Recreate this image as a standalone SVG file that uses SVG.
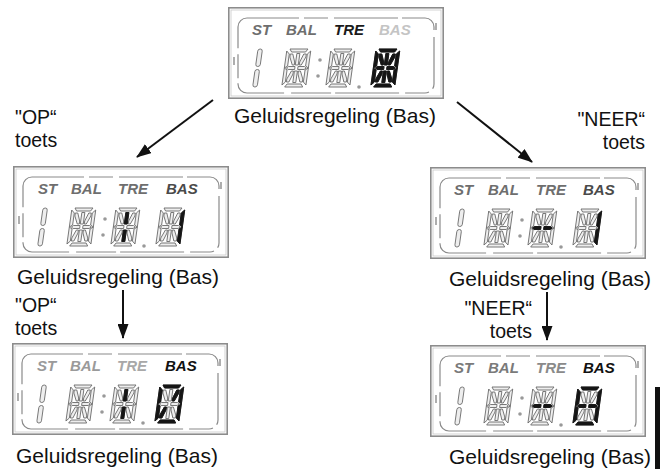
<svg xmlns="http://www.w3.org/2000/svg" xmlns:xlink="http://www.w3.org/1999/xlink" width="660" height="469" viewBox="0 0 660 469">
<style>
.cap{font-family:"Liberation Sans",Arial,sans-serif;font-size:21px;fill:#111}
.key{font-family:"Liberation Sans",Arial,sans-serif;font-size:19.5px;fill:#111}
.lbl{font-family:"Liberation Sans",Arial,sans-serif;font-size:15px;font-weight:bold;font-style:italic}
.seg{fill:#eeeeee;stroke:#6e6e6e;stroke-width:0.9}
.on{fill:#151515;stroke:#151515;stroke-width:0.9}
.arrow{stroke:#111;stroke-width:2;fill:none}
</style>
<defs>
<marker id="ah" markerUnits="userSpaceOnUse" markerWidth="15" markerHeight="11" refX="14" refY="5.5" orient="auto">
<path d="M0,0 L15,5.5 L0,11 z" fill="#111"/>
</marker>
<polygon id="sA" points="3,0 21,0 19,3 5,3"/>
<polygon id="sD" points="5,35 19,35 21,38 3,38"/>
<polygon id="sF" points="0,2 3,5 3,17 0,19"/>
<polygon id="sE" points="0,19 3,21 3,33 0,36"/>
<polygon id="sB" points="24,2 24,19 21,17 21,5"/>
<polygon id="sC" points="24,19 24,36 21,33 21,21"/>
<polygon id="sG1" points="2,19 4,17.5 10.5,17.5 10.5,20.5 4,20.5"/>
<polygon id="sG2" points="13.5,17.5 20,17.5 22,19 20,20.5 13.5,20.5"/>
<polygon id="sI" points="10.5,4.5 13.5,4.5 13.5,16 10.5,16"/>
<polygon id="sL" points="10.5,22 13.5,22 13.5,33.5 10.5,33.5"/>
<polygon id="sH" points="4,5 6.5,5 9.5,13 9.5,16 7.5,16 4,8"/>
<polygon id="sJ" points="20,5 17.5,5 14.5,13 14.5,16 16.5,16 20,8"/>
<polygon id="sK" points="4,33 6.5,33 9.5,25 9.5,22 7.5,22 4,30"/>
<polygon id="sM" points="20,33 17.5,33 14.5,25 14.5,22 16.5,22 20,30"/>
<g id="d14">
<use href="#sA"/><use href="#sD"/><use href="#sF"/><use href="#sE"/><use href="#sB"/><use href="#sC"/><use href="#sG1"/><use href="#sG2"/><use href="#sI"/><use href="#sL"/><use href="#sH"/><use href="#sJ"/><use href="#sK"/><use href="#sM"/>
</g>
<g id="lcd">
<rect x="0.8" y="0.8" width="214.4" height="90.4" fill="#fff" stroke="#8c8c8c" stroke-width="1.6"/>
<rect x="3" y="3" width="210" height="86" fill="none" stroke="#c8c8c8" stroke-width="0.8"/>
<rect x="10" y="11" width="196" height="75" rx="9" fill="none" stroke="#8a8a8a" stroke-width="1.2" stroke-dasharray="52 5 24 6 64 4 40 7"/>
<line x1="6" y1="50" x2="6" y2="58" stroke="#777" stroke-width="1.2"/>
<line x1="208" y1="16" x2="208" y2="23" stroke="#777" stroke-width="1.2"/>
<g transform="translate(30,42) skewX(-8)" class="seg">
<rect x="0" y="0" width="4.5" height="17.5" rx="2.2"/>
<rect x="0" y="20.5" width="4.5" height="17.5" rx="2.2"/>
</g>
<circle cx="92" cy="53" r="1.8" fill="#999"/>
<circle cx="90" cy="69" r="1.8" fill="#999"/>
<circle cx="131" cy="80" r="1.8" fill="#999"/>
<use href="#d14" class="seg" transform="translate(59,42) skewX(-8)"/>
<use href="#d14" class="seg" transform="translate(103,42) skewX(-8)"/>
<use href="#d14" class="seg" transform="translate(148,42) skewX(-8)"/>
</g>
</defs>

<g id="connectors">
<line class="arrow" x1="213" y1="100" x2="137" y2="157" marker-end="url(#ah)"/>
<line class="arrow" x1="457" y1="102" x2="532" y2="162" marker-end="url(#ah)"/>
<line class="arrow" x1="123" y1="290" x2="123" y2="338" marker-end="url(#ah)"/>
<line class="arrow" x1="547" y1="292" x2="547" y2="340" marker-end="url(#ah)"/>
</g>

<g id="display-top" transform="translate(228,7)">
<use href="#lcd"/>
<text class="lbl" x="24" y="28" fill="#6e6e6e">ST</text>
<text class="lbl" x="58" y="28" fill="#6e6e6e">BAL</text>
<text class="lbl" x="106" y="28" fill="#1a1a1a">TRE</text>
<text class="lbl" x="151" y="28" fill="#c4c4c4">BAS</text>
<g class="on" transform="translate(148,42) skewX(-8)"><use href="#d14"/></g>
</g>
<text id="cap-top" class="cap" x="335" y="123" text-anchor="middle">Geluidsregeling (Bas)</text>

<g id="key-op-1">
<text class="key" x="15" y="124">"OP“</text>
<text class="key" x="15" y="147">toets</text>
</g>
<g id="key-neer-1">
<text class="key" x="645" y="126" text-anchor="end">"NEER“</text>
<text class="key" x="645" y="149" text-anchor="end">toets</text>
</g>

<g id="display-mid-left" transform="translate(13,166)">
<use href="#lcd"/>
<text class="lbl" x="25" y="28" fill="#6e6e6e">ST</text>
<text class="lbl" x="58" y="28" fill="#6e6e6e">BAL</text>
<text class="lbl" x="105" y="28" fill="#6e6e6e">TRE</text>
<text class="lbl" x="153" y="28" fill="#4a4a4a">BAS</text>
<g class="on" transform="translate(103,42) skewX(-8)"><use href="#sI"/><use href="#sL"/></g>
<g class="on" transform="translate(148,42) skewX(-8)"><use href="#sB"/><use href="#sC"/></g>
</g>
<text id="cap-mid-left" class="cap" x="118" y="284" text-anchor="middle">Geluidsregeling (Bas)</text>

<g id="display-mid-right" transform="translate(430,167)">
<use href="#lcd"/>
<text class="lbl" x="24" y="28" fill="#6e6e6e">ST</text>
<text class="lbl" x="58" y="28" fill="#6e6e6e">BAL</text>
<text class="lbl" x="106" y="28" fill="#6e6e6e">TRE</text>
<text class="lbl" x="153" y="28" fill="#4a4a4a">BAS</text>
<g class="on" transform="translate(103,42) skewX(-8)"><use href="#sG1"/><use href="#sG2"/></g>
<g class="on" transform="translate(148,42) skewX(-8)"><use href="#sB"/><use href="#sC"/></g>
</g>
<text id="cap-mid-right" class="cap" x="550" y="286" text-anchor="middle">Geluidsregeling (Bas)</text>

<g id="key-op-2">
<text class="key" x="15" y="312">"OP“</text>
<text class="key" x="15" y="335">toets</text>
</g>
<g id="key-neer-2">
<text class="key" x="532" y="315" text-anchor="end">"NEER“</text>
<text class="key" x="532" y="338" text-anchor="end">toets</text>
</g>

<g id="display-bottom-left" transform="translate(12,343)">
<use href="#lcd"/>
<text class="lbl" x="25" y="28" fill="#9a9a9a">ST</text>
<text class="lbl" x="58" y="28" fill="#9a9a9a">BAL</text>
<text class="lbl" x="105" y="28" fill="#a8a8a8">TRE</text>
<text class="lbl" x="153" y="28" fill="#111">BAS</text>
<g class="on" transform="translate(103,42) skewX(-8)"><use href="#sI"/><use href="#sL"/></g>
<g class="on" transform="translate(148,42) skewX(-8)"><use href="#sA"/><use href="#sD"/><use href="#sF"/><use href="#sE"/><use href="#sB"/><use href="#sC"/><use href="#sJ"/><use href="#sK"/></g>
</g>
<text id="cap-bottom-left" class="cap" x="117" y="463" text-anchor="middle">Geluidsregeling (Bas)</text>

<g id="display-bottom-right" transform="translate(430,345)">
<use href="#lcd"/>
<text class="lbl" x="24" y="28" fill="#7a7a7a">ST</text>
<text class="lbl" x="58" y="28" fill="#7a7a7a">BAL</text>
<text class="lbl" x="106" y="28" fill="#8a8a8a">TRE</text>
<text class="lbl" x="153" y="28" fill="#111">BAS</text>
<g class="on" transform="translate(103,42) skewX(-8)"><use href="#sG1"/><use href="#sG2"/></g>
<g class="on" transform="translate(148,42) skewX(-8)"><use href="#sA"/><use href="#sD"/><use href="#sF"/><use href="#sE"/><use href="#sB"/><use href="#sC"/><use href="#sG1"/><use href="#sG2"/></g>
</g>
<text id="cap-bottom-right" class="cap" x="550" y="464" text-anchor="middle">Geluidsregeling (Bas)</text>

<rect id="edge-bar" x="655" y="387" width="5" height="82" fill="#111"/>
</svg>
